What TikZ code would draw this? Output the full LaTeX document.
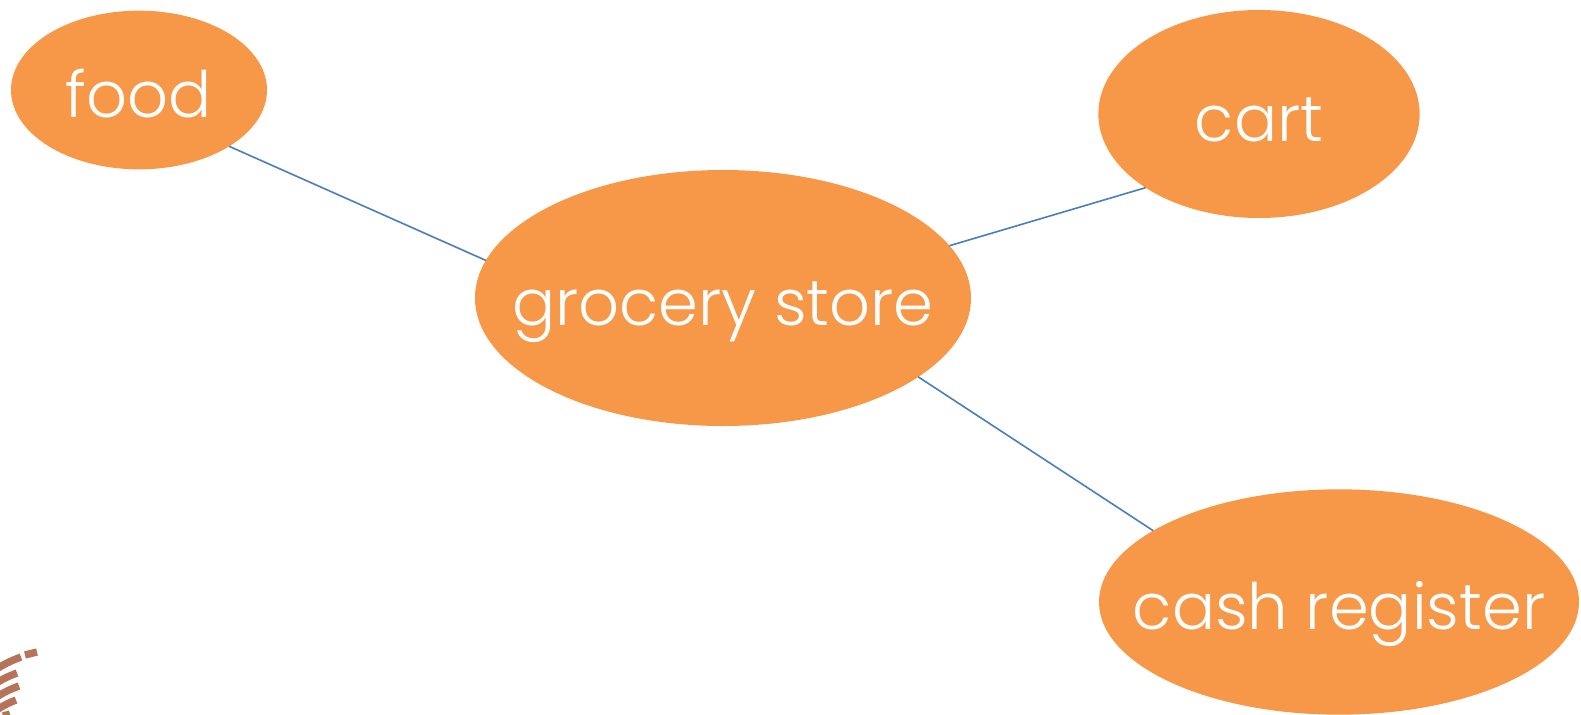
\documentclass[tikz,border=0pt]{standalone}
\usepackage{fontspec}
\setmainfont{Poppins}[UprightFont=* Light]
\usetikzlibrary{shapes, positioning}
\definecolor{bubble}{HTML}{F79848}
\definecolor{link}{HTML}{4A7EBB}
\definecolor{logo}{HTML}{A85A3C}

\begin{document}
\begin{tikzpicture}[
    x=0.75pt, y=-0.75pt, on grid,
    topic/.style={ellipse, fill=bubble, text=white, inner xsep=-60pt, inner ysep=0pt, outer sep=0pt, text height=41pt, text depth=0pt, font=\fontsize{48}{58}\selectfont},
    line/.style={draw=link, line width=1.2pt},
    mark stroke/.style={draw=logo, line width=5.5pt, opacity=0.85}
]
\useasboundingbox (0,0) rectangle (1581,714);

\node [topic, minimum width=372pt, minimum height=192pt] (store) at (723,298) {grocery store};
\node [topic, minimum width=192pt, minimum height=119pt, above left=156pt and 438pt of store] (food) {food};
\node [topic, minimum width=241pt, minimum height=156pt, above right=138pt and 402pt of store] (cart) {cart};
\node [topic, minimum width=360pt, minimum height=169pt, below right=228pt and 462pt of store] (register) {cash register};

\path [line] (food.-32.3) -- (store.171);
\path [line] (cart.213.5) -- (store.13.4);
\path [line] (store.-22) -- (register.159.5);

% corner of the logo
\draw [mark stroke] (25,655) -- (37,652);
\draw [mark stroke] (-2,668) to [bend left=5] (21,657);
\draw [mark stroke] (-2,682) to [bend left=5] (17,673);
\draw [mark stroke] (-2,696) to [bend left=5] (19,686);
\draw [mark stroke] (-2,709) to [bend left=5] (16,700);
\draw [mark stroke] (3,716) -- (10,714);

\end{tikzpicture}
\end{document}
